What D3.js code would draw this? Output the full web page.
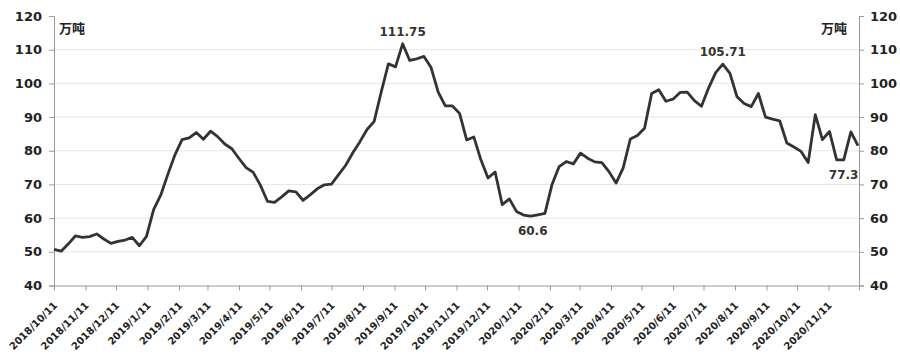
<!DOCTYPE html>
<html>
<head>
<meta charset="utf-8">
<script src="https://cdn.jsdelivr.net/npm/d3@7"></script>
<style>
  body { margin: 0; background: #fff; }
  svg { display: block; }
  .tick text { font-family: "DejaVu Sans", Verdana, sans-serif; font-weight: bold; fill: #222; }
</style>
</head>
<body>
<div id="vis"></div>
<script>
// frame constants
const FRAME_WIDTH = 900;
const FRAME_HEIGHT = 360;
const MARGINS = {left: 54, right: 41, top: 16, bottom: 74.5};

// weekly inventory, starting 2018/10/11 (万吨)
const START_DATE = "2018/10/11";
const END_DATE = "2020/12/11";
const values = [
  50.7, 50.2, 52.3, 54.7, 54.3, 54.5, 55.3, 53.8, 52.5, 53.1,
  53.5, 54.3, 51.8, 54.6, 62.5, 66.8, 73.0, 78.8, 83.3, 83.8,
  85.4, 83.4, 85.8, 84.2, 82.0, 80.6, 77.7, 75.0, 73.6, 69.8,
  65.0, 64.7, 66.3, 68.1, 67.8, 65.3, 66.9, 68.7, 69.9, 70.1,
  72.9, 75.7, 79.4, 82.7, 86.3, 88.7, 97.5, 105.8, 104.9, 111.75,
  106.8, 107.3, 108.0, 104.7, 97.4, 93.3, 93.3, 91.1, 83.2, 84.1,
  77.3, 71.9, 73.7, 64.0, 65.7, 62.0, 60.9, 60.6, 61.0, 61.4,
  70.0, 75.3, 76.8, 76.1, 79.3, 77.8, 76.7, 76.5, 73.8, 70.4,
  74.9, 83.5, 84.5, 86.7, 97.0, 98.1, 94.7, 95.3, 97.3, 97.4,
  94.9, 93.2, 98.6, 103.2, 105.71, 103.0, 96.0, 94.0, 93.1, 97.0,
  90.0, 89.4, 88.9, 82.3, 81.1, 79.8, 76.5, 90.7, 83.3, 85.7,
  77.3, 77.3, 85.6, 81.5
];

// x tick labels
const tickLabels = [
  "2018/10/11", "2018/11/11", "2018/12/11", "2019/1/11", "2019/2/11",
  "2019/3/11", "2019/4/11", "2019/5/11", "2019/6/11", "2019/7/11",
  "2019/8/11", "2019/9/11", "2019/10/11", "2019/11/11", "2019/12/11",
  "2020/1/11", "2020/2/11", "2020/3/11", "2020/4/11", "2020/5/11",
  "2020/6/11", "2020/7/11", "2020/8/11", "2020/9/11", "2020/10/11",
  "2020/11/11"
];
const yTicks = [40, 50, 60, 70, 80, 90, 100, 110, 120];

// labelled points: week index + text
const markIndex = [49, 67, 94, 110];
const markText = ["111.75", "60.6", "105.71", "77.3"];
const markAbove = [true, false, true, false];

const unitLabel = "万吨";

const PARSE = d3.timeParse("%Y/%m/%d");
const start = PARSE(START_DATE);
const data = values.map((v, i) => ({date: d3.timeDay.offset(start, i * 7), value: v}));

const FRAME = d3.select("#vis")
  .append("svg")
    .attr("width", FRAME_WIDTH)
    .attr("height", FRAME_HEIGHT);

const X_SCALE = d3.scaleTime()
  .domain([start, PARSE(END_DATE)])
  .range([MARGINS.left, FRAME_WIDTH - MARGINS.right]);

const Y_SCALE = d3.scaleLinear()
  .domain([40, 120])
  .range([FRAME_HEIGHT - MARGINS.bottom, MARGINS.top]);

// gridlines
FRAME.append("g")
  .selectAll("line")
  .data(yTicks.filter(d => d > 40 && d < 120))
  .enter()
  .append("line")
    .attr("x1", MARGINS.left)
    .attr("x2", FRAME_WIDTH - MARGINS.right)
    .attr("y1", d => Y_SCALE(d))
    .attr("y2", d => Y_SCALE(d))
    .attr("stroke", "#e6e6e6")
    .attr("stroke-width", 1);

// left axis
const leftAxis = FRAME.append("g")
  .attr("transform", "translate(" + MARGINS.left + ",0)")
  .call(d3.axisLeft(Y_SCALE).tickValues(yTicks).tickSize(5).tickPadding(7));
leftAxis.selectAll("text").attr("font-size", "13px");

// right axis
const rightAxis = FRAME.append("g")
  .attr("transform", "translate(" + (FRAME_WIDTH - MARGINS.right) + ",0)")
  .call(d3.axisRight(Y_SCALE).tickValues(yTicks).tickSize(5).tickPadding(6));
rightAxis.selectAll("text").attr("font-size", "13px");

// bottom axis
const bottomAxis = FRAME.append("g")
  .attr("transform", "translate(0," + (FRAME_HEIGHT - MARGINS.bottom) + ")")
  .call(d3.axisBottom(X_SCALE)
    .tickValues(tickLabels.map(PARSE).concat([PARSE(END_DATE)]))
    .tickFormat((d, i) => tickLabels[i] || "")
    .tickSize(5)
    .tickSizeOuter(0));
bottomAxis.selectAll("text")
  .attr("font-size", "10px")
  .attr("text-anchor", "end")
  .attr("x", 0)
  .attr("y", 0)
  .attr("dx", "-12")
  .attr("dy", "17")
  .attr("transform", "rotate(-45)");

FRAME.selectAll(".domain, .tick line").attr("stroke", "#9a9a9a");

// line
const line = d3.line()
  .x(d => X_SCALE(d.date))
  .y(d => Y_SCALE(d.value));

FRAME.append("path")
  .datum(data)
  .attr("d", line)
  .attr("fill", "none")
  .attr("stroke", "#333")
  .attr("stroke-width", 2.8)
  .attr("stroke-linejoin", "round");

// value labels
FRAME.append("g")
  .selectAll("text")
  .data(markIndex)
  .enter()
  .append("text")
    .attr("x", (d, i) => X_SCALE(data[d].date) + (i === 3 ? 7 : (i === 1 ? 2 : 0)))
    .attr("y", (d, i) => Y_SCALE(data[d].value) + (markAbove[i] ? -8 : 19))
    .attr("text-anchor", "middle")
    .attr("font-family", "DejaVu Sans, Verdana, sans-serif")
    .attr("font-weight", "bold")
    .attr("font-size", "12px")
    .attr("fill", "#333")
    .text((d, i) => markText[i]);

// unit labels
FRAME.append("text")
  .attr("x", MARGINS.left + 5)
  .attr("y", 33)
  .attr("font-family", "Noto Sans CJK SC, sans-serif")
  .attr("font-weight", "bold")
  .attr("font-size", "13px")
  .attr("fill", "#222")
  .text(unitLabel);

FRAME.append("text")
  .attr("x", FRAME_WIDTH - MARGINS.right - 12)
  .attr("y", 33)
  .attr("text-anchor", "end")
  .attr("font-family", "Noto Sans CJK SC, sans-serif")
  .attr("font-weight", "bold")
  .attr("font-size", "13px")
  .attr("fill", "#222")
  .text(unitLabel);
</script>
</body>
</html>
